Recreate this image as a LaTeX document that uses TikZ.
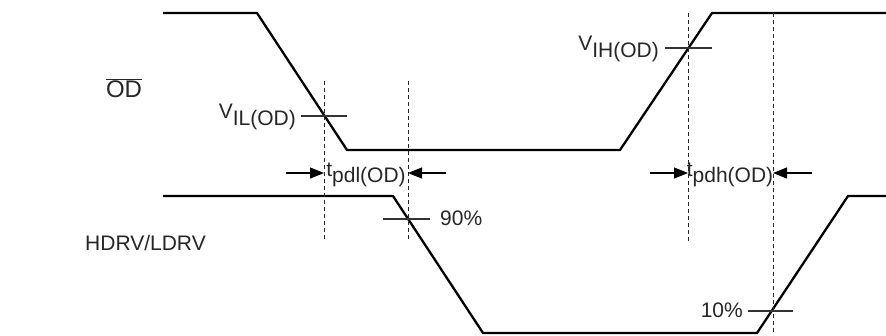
\documentclass[tikz,border=0pt]{standalone}
\usepackage{fontspec}
\setmainfont{Liberation Sans}
\usetikzlibrary{arrows.meta}
\newcommand\mysub[2]{#1\raisebox{-0.3em}{#2}}
\begin{document}
\begin{tikzpicture}[x=1pt,y=-1pt,
  wave/.style={line width=2.3pt,line join=miter},
  tick/.style={line width=1.1pt,draw=black!80},
  guide/.style={line width=0.9pt,dash pattern=on 4pt off 3pt,draw=black!85},
  meas/.style={line width=1.1pt,-{Triangle[length=14pt,width=11pt]}},
  lbl/.style={inner sep=0pt,font=\fontsize{21}{23}\selectfont,text=black!85}]
\useasboundingbox (0,0) rectangle (886,335);
% top waveform
\coordinate (a0) at (163,13);
\coordinate (a1) at (257,13);
\coordinate (a2) at (347,150);
\coordinate (a3) at (620,150);
\coordinate (a4) at (712,13);
\coordinate (a5) at (886,13);
\draw[wave] (a0) -- (a1) -- (a2) -- (a3) -- (a4) -- (a5);
% bottom waveform
\coordinate (b0) at (163,196);
\coordinate (b1) at (393,196);
\coordinate (b2) at (483,333);
\coordinate (b3) at (757,333);
\coordinate (b4) at (848,196);
\coordinate (b5) at (886,196);
\draw[wave] (b0) -- (b1) -- (b2) -- (b3) -- (b4) -- (b5);
% dashed guides
\coordinate (g1t) at (324,81);  \coordinate (g1b) at (324,239);
\coordinate (g2t) at (408,81);  \coordinate (g2b) at (408,239);
\coordinate (g3t) at (688,13);  \coordinate (g3b) at (688,242);
\coordinate (g4t) at (773,13);  \coordinate (g4b) at (773,335);
\draw[guide] (g1t) -- (g1b);
\draw[guide] (g2t) -- (g2b);
\draw[guide] (g3t) -- (g3b);
\draw[guide] (g4t) -- (g4b);
% threshold ticks
\coordinate (t1l) at (301,116); \coordinate (t1r) at (347,116);
\coordinate (t2l) at (665,48);  \coordinate (t2r) at (712,48);
\coordinate (t3l) at (383,219); \coordinate (t3r) at (430,219);
\coordinate (t4l) at (748,311); \coordinate (t4r) at (793,311);
\draw[tick] (t1l) -- (t1r);
\draw[tick] (t2l) -- (t2r);
\draw[tick] (t3l) -- (t3r);
\draw[tick] (t4l) -- (t4r);
% measurement arrows
\coordinate (m1s) at (286,173); \coordinate (m1e) at (324,173);
\coordinate (m2s) at (446,173); \coordinate (m2e) at (408,173);
\coordinate (m3s) at (650,173); \coordinate (m3e) at (688,173);
\coordinate (m4s) at (812,173); \coordinate (m4e) at (773,173);
\draw[meas] (m1s) -- (m1e);
\draw[meas] (m2s) -- (m2e);
\draw[meas] (m3s) -- (m3e);
\draw[meas] (m4s) -- (m4e);
% labels
\node[lbl,font=\fontsize{24}{26}\selectfont] (od) at (124,88) {$\overline{\mbox{OD}}$};
\node[lbl,anchor=west] (drv) at (85,243) {HDRV/LDRV};
\node[lbl,anchor=east] (vil) at (296,117) {\mysub{V}{IL(OD)}};
\node[lbl,anchor=east] (vih) at (659,49) {\mysub{V}{IH(OD)}};
\node[lbl] (tpdl) at (366,175) {\mysub{t}{pdl(OD)}};
\node[lbl] (tpdh) at (730,175) {\mysub{t}{pdh(OD)}};
\node[lbl,anchor=west] (p90) at (440,218) {90\%};
\node[lbl,anchor=east] (p10) at (743,310) {10\%};
\end{tikzpicture}
\end{document}
